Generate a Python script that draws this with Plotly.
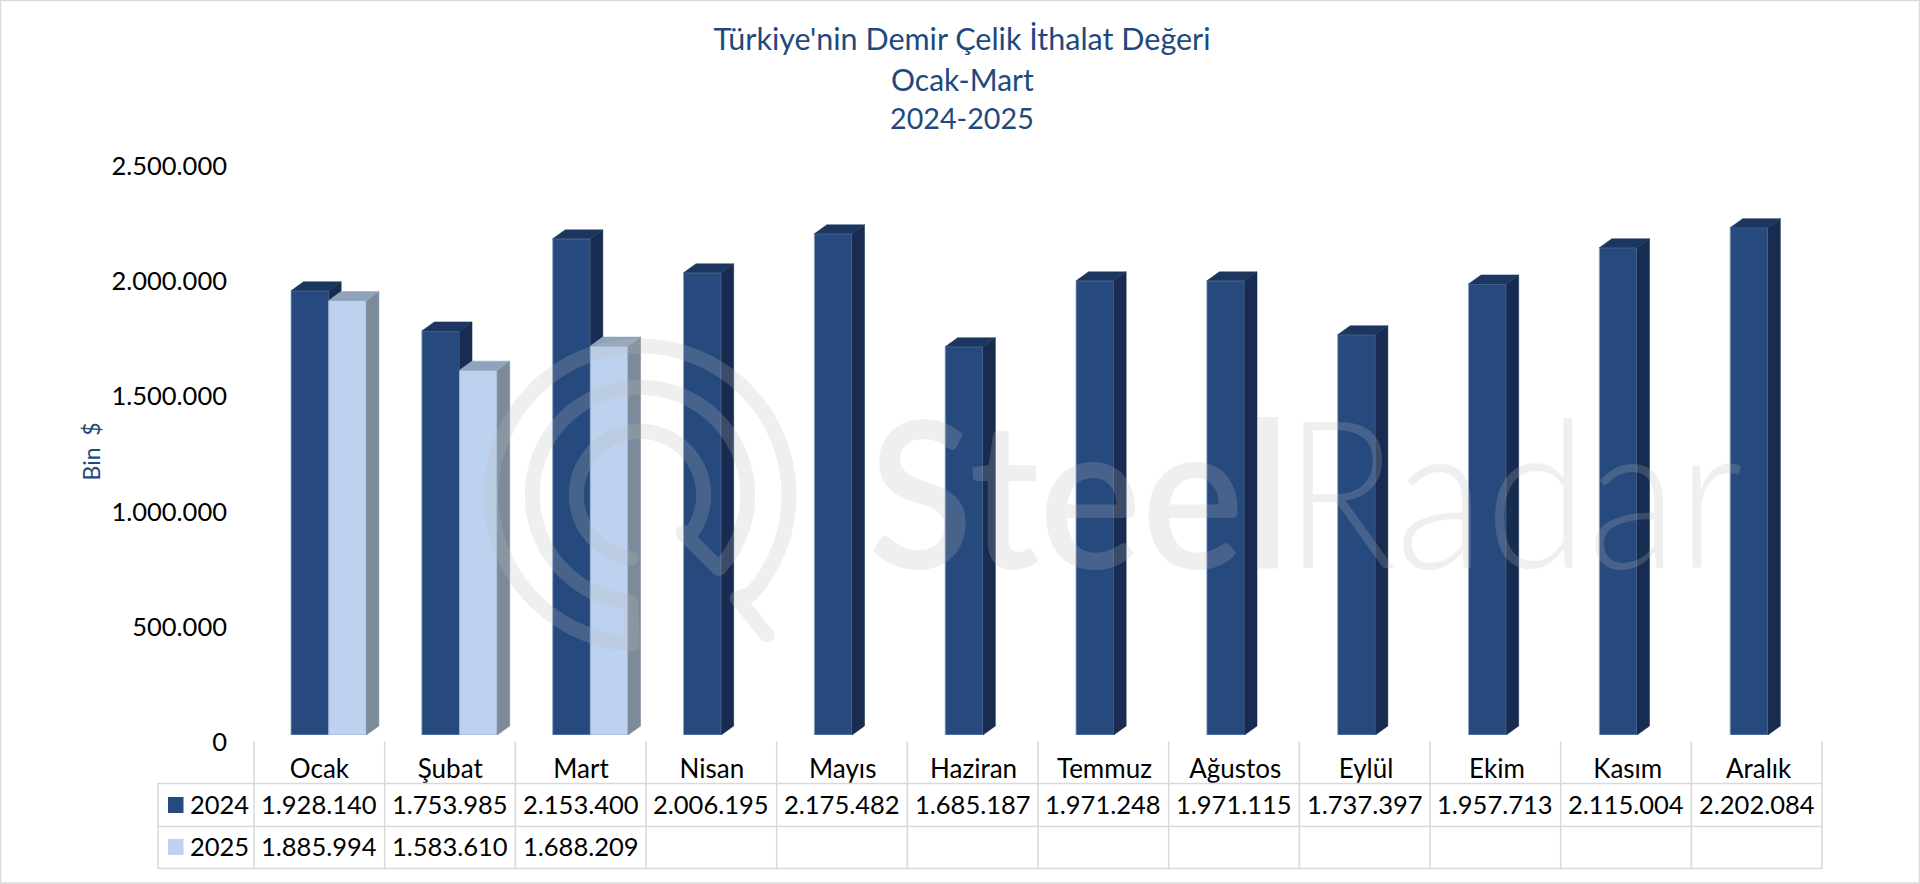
import numpy as np
import plotly.graph_objects as go

# ---------- data ----------
MONTHS = ["Ocak", "Şubat", "Mart", "Nisan", "Mayıs", "Haziran", "Temmuz",
          "Ağustos", "Eylül", "Ekim", "Kasım", "Aralık"]
VALUES_2024 = [1928140, 1753985, 2153400, 2006195, 2175482, 1685187,
               1971248, 1971115, 1737397, 1957713, 2115004, 2202084]
VALUES_2025 = [1885994, 1583610, 1688209]
Y_TICKS = [0, 500000, 1000000, 1500000, 2000000, 2500000]
TITLE_LINES = ["Türkiye'nin Demir Çelik İthalat Değeri", "Ocak-Mart", "2024-2025"]
Y_TITLE = "Bin  $"

# ---------- layout constants (pixels of the 1920x884 page) ----------
W, H = 1920, 884
PLOT_L, PLOT_R, PLOT_T, PLOT_B = 254, 1824, 159, 735
TBL_R = 1822
CAT_W = (PLOT_R - PLOT_L) / 12
TBL_CAT_W = (TBL_R - PLOT_L) / 12
UNIT_Y = (PLOT_B - PLOT_T) / 2500000       # px per value unit
BAR_W = 37.7 / CAT_W
BAR_OFFSET = (291 - PLOT_L) / CAT_W - 0.5
DX = 12.5 / CAT_W
DY = 9 / UNIT_Y

NAVY_FRONT, NAVY_TOP, NAVY_SIDE = "#264A7E", "#1C365F", "#172C50"
LIGHT_FRONT, LIGHT_TOP, LIGHT_SIDE = "#BDD2EE", "#8FA3BB", "#7C8A9B"
TITLE_COLOR = "#1F497D"
GRID = "#D9D9D9"
FONT = "Lato"
WM = "rgba(187,187,187,0.23)"


def px(x):
    return x / W


def py(y):
    return 1 - y / H


fmt = lambda v: f"{v:,}".replace(",", ".")


def faces(values, slot, floors=None):
    """Side and top parallelograms of the 3-D look, from the series values."""
    sx, sy, tx, ty = [], [], [], []
    for i, v in enumerate(values):
        left = i + BAR_OFFSET + slot * BAR_W
        right = left + BAR_W
        low = floors[i] if floors is not None and i < len(floors) else 0
        sx += [right, right + DX, right + DX, right, right, None]
        sy += [low, low + DY, v + DY, v, low, None]
        tx += [left, right, right + DX, left + DX, left, None]
        ty += [v, v, v + DY, v + DY, v, None]
    return sx, sy, tx, ty


fig = go.Figure()
x_idx = list(range(12))

for name, vals, slot, front in [("2024", VALUES_2024, 0, NAVY_FRONT),
                                ("2025", VALUES_2025, 1, LIGHT_FRONT)]:
    fig.add_bar(x=x_idx[:len(vals)], y=vals, name=name, width=BAR_W,
                offset=BAR_OFFSET + slot * BAR_W,
                marker=dict(color=front, line=dict(color="#8FA6C8", width=0.8)),
                hovertemplate="%{y:,d}<extra>" + name + "</extra>")

for vals, slot, floors, side, top in [
        (VALUES_2024, 0, VALUES_2025, NAVY_SIDE, NAVY_TOP),
        (VALUES_2025, 1, None, LIGHT_SIDE, LIGHT_TOP)]:
    sx, sy, tx, ty = faces(vals, slot, floors)
    for xs, ys, c in [(sx, sy, side), (tx, ty, top)]:
        fig.add_scatter(x=xs, y=ys, mode="lines", fill="toself", fillcolor=c,
                        line=dict(color=c, width=0.5), hoverinfo="skip")

shapes = []


def line(x0, y0, x1, y1):
    shapes.append(dict(type="line", xref="paper", yref="paper",
                       x0=px(x0), y0=py(y0), x1=px(x1), y1=py(y1),
                       line=dict(color=GRID, width=1.5)))


# outer frame
shapes.append(dict(type="rect", xref="paper", yref="paper", x0=px(0.5), y0=py(H - 1),
                   x1=px(W - 0.5), y1=py(0.5), line=dict(color=GRID, width=1.5)))
# data table grid
TBL_L, TBL_TOP, ROW1, ROW2, ROW3 = 158, 742, 783.5, 826.5, 868.5
for y in (ROW1, ROW2, ROW3):
    line(TBL_L, y, TBL_R, y)
line(TBL_L, ROW1, TBL_L, ROW3)
for i in range(13):
    xp = PLOT_L + i * TBL_CAT_W
    line(xp, TBL_TOP, xp, ROW3)
# legend keys inside the table
for y0, c in [(797, NAVY_FRONT), (839, LIGHT_FRONT)]:
    shapes.append(dict(type="rect", xref="paper", yref="paper", x0=px(168), x1=px(183.5),
                       y0=py(y0 + 16), y1=py(y0), fillcolor=c, line=dict(width=0)))

# watermark logo: one continuous spiral stroke
CX, CY = 640, 495


def arc(r, a0, a1, n=90):
    a = np.radians(np.linspace(a0, a1, n))
    return list(zip(CX + r * np.cos(a), CY - r * np.sin(a)))


pts = [(767, 635), (737, 598)]
pts += arc(149, -42, 267)
pts += arc(107.7, 265, -43)
pts += [(683, 533)]
pts += arc(63.7, -36, 262)
d = "M " + " L ".join(f"{px(a):.5f},{py(b):.5f}" for a, b in pts)
shapes.append(dict(type="path", xref="paper", yref="paper", path=d, layer="above",
                   line=dict(color=WM, width=15)))

annotations = [
    dict(text=TITLE_LINES[1], x=px(962), y=py(79), font=dict(family=FONT, size=30, color=TITLE_COLOR)),
    dict(text=TITLE_LINES[2], x=px(962), y=py(118), font=dict(family=FONT, size=28.7, color=TITLE_COLOR)),
    dict(text=Y_TITLE, x=px(90.5), y=py(452), textangle=-90, font=dict(family=FONT, size=23, color=TITLE_COLOR)),
]
annotations = [dict(a, xref="paper", yref="paper", showarrow=False, xanchor="center",
                    yanchor="middle") for a in annotations]


def cell(text, xp, yp):
    annotations.append(dict(text=text, xref="paper", yref="paper", x=px(xp), y=py(yp),
                            showarrow=False, xanchor="center", yanchor="middle",
                            font=dict(family=FONT, size=25.5, color="#000000")))


cell("2024", 219, 803.5)
cell("2025", 219, 845.5)
for i, v in enumerate(VALUES_2024):
    cell(fmt(v), PLOT_L + (i + 0.5) * TBL_CAT_W, 803.5)
for i, v in enumerate(VALUES_2025):
    cell(fmt(v), PLOT_L + (i + 0.5) * TBL_CAT_W, 845.5)

# watermark wordmark
annotations.append(dict(text="Steel", xref="paper", yref="paper", x=px(1079), y=py(489),
                        showarrow=False, xanchor="center", yanchor="middle",
                        font=dict(family=FONT, size=205, color=WM, weight=600)))
annotations.append(dict(text="Radar", xref="paper", yref="paper", x=px(1513.5), y=py(489),
                        showarrow=False, xanchor="center", yanchor="middle",
                        font=dict(family=FONT, size=205, color=WM, weight=300)))

fig.update_layout(
    width=W, height=H, autosize=False,
    margin=dict(l=0, r=0, t=0, b=0, autoexpand=False),
    paper_bgcolor="white", plot_bgcolor="rgba(0,0,0,0)",
    barmode="overlay", showlegend=False, separators=",.",
    title=dict(text=TITLE_LINES[0], x=px(962), xanchor="center", xref="container",
               y=py(39), yref="container", yanchor="middle",
               font=dict(family=FONT, size=30.5, color=TITLE_COLOR)),
    xaxis=dict(domain=[px(PLOT_L), px(PLOT_R)], range=[-0.5, 11.5], tickmode="array",
               tickvals=x_idx, ticktext=MONTHS, showgrid=False, zeroline=False, showline=False,
               ticks="", ticklabelstandoff=16, tickfont=dict(family=FONT, size=26, color="#000000")),
    yaxis=dict(domain=[py(PLOT_B), py(PLOT_T)], range=[0, 2500000], tickmode="array",
               tickvals=Y_TICKS, tickformat=",d", showgrid=False, zeroline=False, showline=False,
               ticks="", ticklabelstandoff=26, ticklabelshift=7,
               tickfont=dict(family=FONT, size=25.5, color="#000000")),
    shapes=shapes, annotations=annotations,
)

post = """
document.body.style.margin='0';
document.documentElement.style.overflow='hidden';
var gd=document.getElementById('{plot_id}');
function rc(){
  gd.querySelectorAll('.shapelayer path').forEach(function(p){p.style.strokeLinecap='round';p.style.strokeLinejoin='round';});
  gd.querySelectorAll('.annotation-text').forEach(function(t){
    var s=t.textContent;
    if(s==='Steel'){t.setAttribute('textLength','423');t.setAttribute('lengthAdjust','spacingAndGlyphs');}
    if(s==='Radar'){t.setAttribute('textLength','459');t.setAttribute('lengthAdjust','spacingAndGlyphs');}
  });
}
rc();gd.on('plotly_afterplot',rc);
"""
fig.write_html("out.html", post_script=post, config={"displayModeBar": False})
